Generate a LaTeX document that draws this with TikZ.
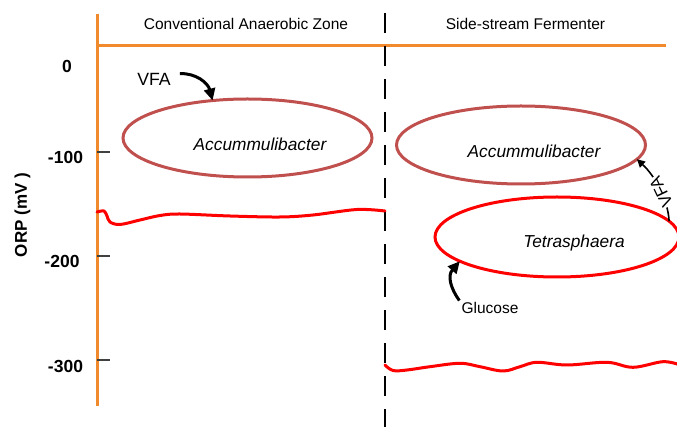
\documentclass[tikz,border=0pt]{standalone}
\usepackage{fontspec}
\setmainfont{Liberation Sans}
\usetikzlibrary{shapes.geometric,arrows.meta}
\definecolor{axisorange}{HTML}{F18A2C}
\definecolor{cellred}{HTML}{C0504D}
\definecolor{wavered}{HTML}{FF0000}
\begin{document}
\begin{tikzpicture}[x=1pt,y=-1pt,
  axis/.style={draw=axisorange, line width=3pt},
  tickmark/.style={draw=black!75, line width=1.2pt},
  divider/.style={draw=black, line width=2.5pt, dash pattern=on 20pt off 13pt},
  cell/.style={ellipse, draw=cellred, line width=3pt, inner sep=0pt, outer sep=0pt,
               minimum width=249pt, minimum height=78pt},
  redcell/.style={cell, draw=wavered, minimum width=244pt, minimum height=80pt},
  orp/.style={draw=wavered, line width=3pt, line join=round, line cap=round},
  hdr/.style={font=\fontsize{15.5}{18}\selectfont, inner sep=0pt},
  val/.style={font=\fontsize{17.5}{20}\selectfont\bfseries, inner sep=0pt},
  ylab/.style={font=\fontsize{17}{20}\selectfont\bfseries, inner sep=0pt},
  bug/.style={font=\fontsize{17.3}{20}\selectfont\itshape, inner sep=0pt},
  lab/.style={font=\fontsize{17.7}{20}\selectfont, inner sep=0pt},
  smalllab/.style={font=\fontsize{15.5}{18}\selectfont, inner sep=0pt},
  feed/.style={draw=black, line width=3pt, -{Triangle[length=12pt,width=11pt]}},
  thinfeed/.style={draw=black, line width=1.6pt, -{Triangle[length=8pt,width=8pt]}}
]
\useasboundingbox (0,0) rectangle (677,427);
\clip (0,0) rectangle (677,427);

% zone headers
\node[hdr, anchor=base] (zoneA) at (246,30) {Conventional Anaerobic Zone};
\node[hdr, anchor=base] (zoneB) at (525.5,30) {Side-stream Fermenter};

% ORP axis and zone divider
\coordinate (axtop) at (97,14);
\coordinate (axbot) at (97,406);
\coordinate (toplineend) at (666,46);
\coordinate (topline) at (97,46);
\draw[axis] (axtop) -- (axbot);
\draw[axis] (topline) -- (toplineend);
\coordinate (divtop) at (385,13);
\coordinate (divbot) at (385,427);
\draw[divider] (divtop) -- (divbot);

% ticks and values
\foreach \y/\name in {152/a,256/b,360/c}{
  \coordinate (t\name0) at (97,\y);
  \coordinate (t\name1) at (110,\y);
  \draw[tickmark] (t\name0) -- (t\name1);
}
\node[val, anchor=base] (v0) at (67,73) {0};
\node[val, anchor=base] (v100) at (65.5,164) {-100};
\node[val, anchor=base] (v200) at (62,268) {-200};
\node[val, anchor=base] (v300) at (65.5,372) {-300};
\node[ylab, rotate=90, anchor=base] (ylabel) at (27,215) {ORP (mV )};

% ORP traces
\draw[orp] plot[smooth, tension=0.55] coordinates {
  (97,212) (104,211) (107,216) (110,222) (120,224.5) (140,220) (160,215.5)
  (180,214) (230,216) (280,217) (313,215) (357,209.5) (385,211)};
\draw[orp] plot[smooth, tension=0.6] coordinates {
  (385,365) (393,370.5) (407,370) (430,366.7) (460,363.3) (480,366.7)
  (503,371) (520,366.7) (537,362.3) (567,365) (607,362.3) (633,367.3)
  (663,361.7) (680,365)};

% organisms
\node[cell] (acc1) at (247.5,138) {};
\node[cell] (acc2) at (521,145) {};
\node[redcell] (tet) at (557,237) {};
\node[bug, anchor=base] (acc1txt) at (260,151) {Accummulibacter};
\node[bug, anchor=base] (acc2txt) at (534,158) {Accummulibacter};
\node[bug, anchor=base] (tettxt) at (574,248) {Tetrasphaera};

% substrates
\node[lab, anchor=base, inner xsep=9pt, inner ysep=0pt] (vfaL) at (154,86) {VFA};
\draw[feed] (vfaL.north east) .. controls (196,73) and (208,83) .. (acc1.133);

\node[smalllab, anchor=base, inner sep=2pt] (glu) at (490,314) {Glucose};
\draw[feed] (glu.north west) .. controls (451,289) and (447,276) .. (tet.194);

\draw[thinfeed] (tet.8) .. controls (668,200) and (655,176) ..
  node[pos=0.45, sloped, allow upside down, fill=white, inner sep=0.5pt,
       font=\fontsize{17}{18}\selectfont] (vfaR) {VFA} (acc2.-7);
\end{tikzpicture}
\end{document}
